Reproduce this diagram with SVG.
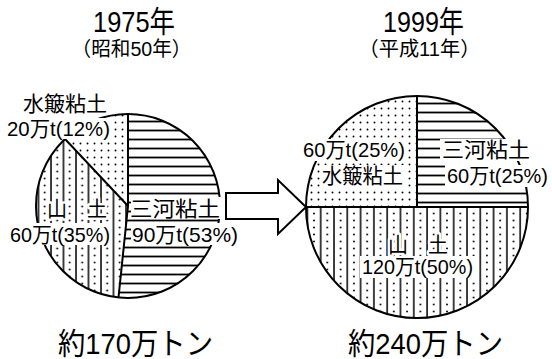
<svg xmlns="http://www.w3.org/2000/svg" width="552" height="359" viewBox="0 0 552 359">
<style>
text{font-family:"Liberation Sans","Noto Sans CJK JP",sans-serif;fill:#000}
.t{font-size:30px}
.s{font-size:20px}
.l{font-size:21px}
.b{font-size:30px}
.out{fill:none;stroke:#000;stroke-width:2}
.bg{fill:#fff}
.halo{stroke:#fff;stroke-width:5;paint-order:stroke;stroke-linejoin:round}
</style>
<defs>
<pattern id="hl" patternUnits="userSpaceOnUse" width="10" height="9">
<rect width="10" height="9" fill="#fff"/>
<line x1="0" y1="4.5" x2="10" y2="4.5" stroke="#000" stroke-width="1.8"/>
</pattern>
<pattern id="dt" patternUnits="userSpaceOnUse" width="7" height="7">
<rect width="7" height="7" fill="#fff"/>
<circle cx="3.5" cy="3.5" r="0.95" fill="#000"/>
</pattern>
<pattern id="vl1" patternUnits="userSpaceOnUse" width="12.5" height="7">
<rect width="12.5" height="7" fill="#fff"/>
<line x1="1" y1="0" x2="1" y2="7" stroke="#000" stroke-width="1.5"/>
<circle cx="7.2" cy="3.5" r="0.95" fill="#000"/>
</pattern>
<pattern id="vl2" patternUnits="userSpaceOnUse" width="13.3" height="7" x="0.5">
<rect width="13.3" height="7" fill="#fff"/>
<line x1="1" y1="0" x2="1" y2="7" stroke="#000" stroke-width="1.5"/>
<circle cx="7.6" cy="3.5" r="0.95" fill="#000"/>
</pattern>
</defs>

<g id="title1975">
<text class="t" x="93" y="32" textLength="82" lengthAdjust="spacingAndGlyphs">1975年</text>
<text class="s" x="131.5" y="56" text-anchor="middle" textLength="120" lengthAdjust="spacingAndGlyphs">（昭和50年）</text>
</g>
<g id="title1999">
<text class="t" x="383" y="32" textLength="81" lengthAdjust="spacingAndGlyphs">1999年</text>
<text class="s" x="419.5" y="56" text-anchor="middle" textLength="122" lengthAdjust="spacingAndGlyphs">（平成11年）</text>
</g>

<g id="pie1975">
<path d="M128,206 L128,114 A92,92 0 1,1 118.5,297.5 Z" fill="url(#hl)"/>
<path d="M128,206 L128,114 A92,92 0 0,0 65,139 Z" fill="url(#dt)"/>
<path d="M128,206 L65,139 A92,92 0 0,0 118.5,297.5 Z" fill="url(#vl1)"/>
<circle class="out" cx="128" cy="206" r="92"/>
<path class="out" d="M128,114 L128,206 L118.5,297.5 M128,206 L65,139"/>
<rect class="bg" x="6" y="118" width="106" height="21"/>
<rect class="bg" x="8" y="223" width="104" height="22"/>
<rect class="bg" x="131" y="197" width="91" height="22"/>
<rect class="bg" x="131" y="223" width="109" height="22"/>
<text class="l" x="23" y="111" textLength="84" lengthAdjust="spacingAndGlyphs">水簸粘土</text>
<text class="l" x="7" y="136" textLength="103" lengthAdjust="spacingAndGlyphs">20万t(12%)</text>
<text class="l halo" x="47" y="216" textLength="60" lengthAdjust="spacingAndGlyphs">山　土</text>
<text class="l" x="10" y="242" textLength="100" lengthAdjust="spacingAndGlyphs">60万t(35%)</text>
<text class="l" x="130" y="216" textLength="90" lengthAdjust="spacingAndGlyphs">三河粘土</text>
<text class="l" x="132" y="242" textLength="106" lengthAdjust="spacingAndGlyphs">90万t(53%)</text>
</g>

<g id="pie1999">
<path d="M417,207 L417,96 A111,111 0 0,1 528,207 Z" fill="url(#hl)"/>
<path d="M417,207 L306,207 A111,111 0 0,1 417,96 Z" fill="url(#dt)"/>
<path d="M306,207 A111,111 0 0,0 528,207 Z" fill="url(#vl2)"/>
<circle class="out" cx="417" cy="207" r="111"/>
<path class="out" d="M417,96 L417,207 M306,207 L528,207"/>
<rect class="bg" x="301" y="139" width="107" height="22"/>
<rect class="bg" x="440" y="139" width="92" height="22"/>
<rect class="bg" x="320" y="165" width="86" height="22"/>
<rect class="bg" x="445" y="165" width="106" height="22"/>
<rect class="bg" x="360" y="256" width="116" height="22"/>
<text class="l" x="303" y="157" textLength="102" lengthAdjust="spacingAndGlyphs">60万t(25%)</text>
<text class="l" x="442" y="157" textLength="88" lengthAdjust="spacingAndGlyphs">三河粘土</text>
<text class="l" x="322" y="183" textLength="81" lengthAdjust="spacingAndGlyphs">水簸粘土</text>
<text class="l" x="447" y="183" textLength="101" lengthAdjust="spacingAndGlyphs">60万t(25%)</text>
<text class="l halo" x="388" y="252" textLength="60" lengthAdjust="spacingAndGlyphs">山　土</text>
<text class="l" x="362" y="274" textLength="111" lengthAdjust="spacingAndGlyphs">120万t(50%)</text>
</g>

<g id="total1975">
<text class="b" x="58" y="354" textLength="155" lengthAdjust="spacingAndGlyphs">約170万トン</text>
</g>
<g id="total1999">
<text class="b" x="348" y="354" textLength="155" lengthAdjust="spacingAndGlyphs">約240万トン</text>
</g>

<g id="connectors">
<polygon points="226,193 278,193 278,180 306,207 278,234 278,219 226,219" fill="#fff" stroke="#000" stroke-width="2" stroke-linejoin="miter"/>
</g>
</svg>
